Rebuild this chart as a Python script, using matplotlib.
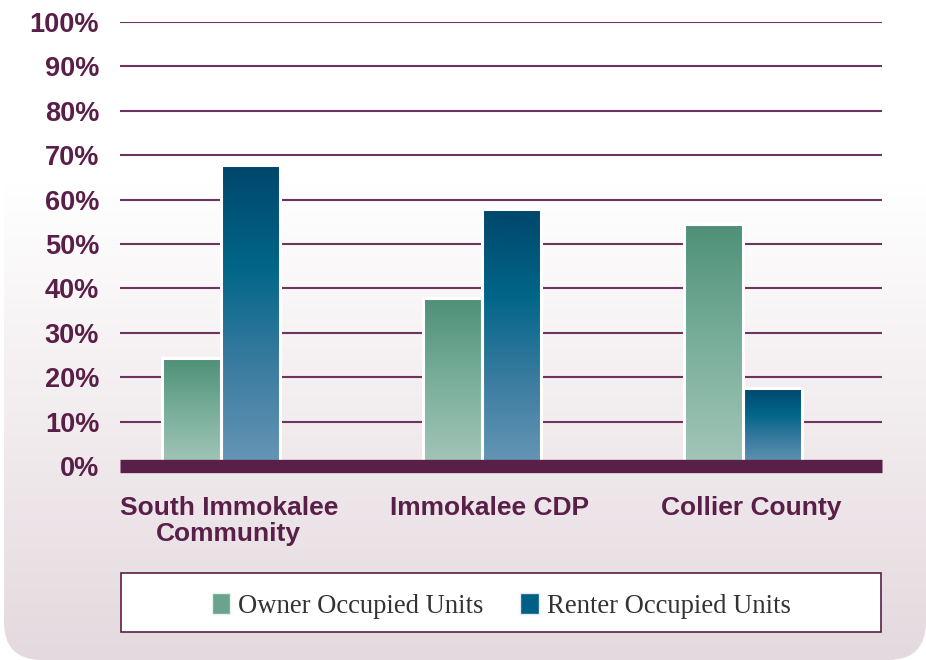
import numpy as np
import matplotlib.pyplot as plt
from matplotlib.patches import Rectangle, FancyBboxPatch, Patch
from matplotlib.colors import LinearSegmentedColormap

# data
categories = ["South Immokalee\nCommunity", "Immokalee CDP", "Collier County"]
owner = [24.3, 37.8, 54.6]
renter = [67.8, 57.9, 17.6]
yticks = list(range(0, 101, 10))
ytick_labels = [f"{v}%" for v in yticks]

PURPLE = "#5a1f48"
GRID = "#6e3460"
owner_cmap = LinearSegmentedColormap.from_list("own", ["#a3c6b8", "#7aaf9b", "#4e9077"])
renter_cmap = LinearSegmentedColormap.from_list("ren", ["#6796b6", "#3a7ca0", "#006588", "#00466b"])

W, H = 926, 660
fig = plt.figure(figsize=(W / 100, H / 100), dpi=100)
fig.patch.set_facecolor("white")

# background panel: soft vertical gradient, rounded bottom corners
bg = fig.add_axes([0, 0, 1, 1], zorder=-5)
bg.set_xlim(0, W)
bg.set_ylim(H, 0)
bg.axis("off")
grad = np.ones((H, 1, 3))
t = np.clip((np.arange(H) - 185) / (H - 185), 0, 1)[:, None]
top = np.array([1.0, 1.0, 1.0])
bot = np.array([0xe4, 0xd9, 0xde]) / 255
grad[:, 0, :] = top * (1 - t) + bot * t
panel = FancyBboxPatch((4, -100), W - 4, H + 100, boxstyle="round,pad=0,rounding_size=38",
                       facecolor="none", edgecolor="none", transform=bg.transData)
bg.add_patch(panel)
im = bg.imshow(grad, extent=(0, W, H, 0), aspect="auto", interpolation="bilinear")
im.set_clip_path(panel)
bg.set_xlim(0, W)
bg.set_ylim(H, 0)

# legend box
bg.add_patch(Rectangle((121, 573), 760, 59, facecolor="white", edgecolor=PURPLE, lw=1.2))

# main axes
x0, x1 = 120, 882
y0, y100 = 466, 22
ax = fig.add_axes([x0 / W, (H - y0) / H, (x1 - x0) / W, (y0 - y100) / H])
ax.patch.set_alpha(0)
c0, c2 = 221, 743
unit = (c2 - c0) / 2
for s in ax.spines.values():
    s.set_visible(False)

for v in yticks[1:]:
    ax.axhline(v, color=GRID, lw=1.5, zorder=1)

bw = 59 / unit
xs = np.arange(len(categories))


def grad_bar(x, h, cmap):
    g = np.linspace(0, 1, 256)[:, None]
    ax.imshow(g, extent=(x - bw / 2, x + bw / 2, 0, h), origin="lower", cmap=cmap,
              aspect="auto", zorder=2, interpolation="bilinear")
    ax.add_patch(Rectangle((x - bw / 2, 0), bw, h, facecolor="none",
                           edgecolor="white", lw=2.2, zorder=3))


for i in xs:
    grad_bar(i - bw / 2, owner[i], owner_cmap)
    grad_bar(i + bw / 2, renter[i], renter_cmap)

ax.set_xlim((x0 - c0) / unit, (x1 - c0) / unit)
ax.set_ylim(0, 100)

# thick baseline
ax.axhline(0, color=PURPLE, lw=9.6, zorder=4, solid_capstyle="butt", clip_on=False)

ax.set_yticks(yticks)
ax.set_yticklabels(ytick_labels)
ax.tick_params(axis="y", length=0, pad=15, labelsize=19.5, labelcolor=PURPLE)
for lab in ax.get_yticklabels():
    lab.set_fontfamily("Liberation Sans")
    lab.set_fontweight("bold")
ax.set_xticks([])

for i, name in enumerate(categories):
    ax.text(i + 0.03, -6.7, name, ha="center", va="top", fontsize=19, fontweight="bold",
            color=PURPLE, family="Liberation Sans", linespacing=1.12, clip_on=False)

handles = [Patch(facecolor="#6aa38e", edgecolor="#e8f0ec", label="Owner Occupied Units"),
           Patch(facecolor="#005f85", edgecolor="#e0eaf0", label="Renter Occupied Units")]
fig.legend(handles=handles, loc="center", bbox_to_anchor=(501 / W, (H - 606) / H),
           ncol=2, frameon=False, prop={"family": "Liberation Serif", "size": 19.2},
           handlelength=0.68, handleheight=0.8, handletextpad=0.3, columnspacing=1.4,
           labelcolor="#333333")

fig.savefig("out.png", dpi=100)
